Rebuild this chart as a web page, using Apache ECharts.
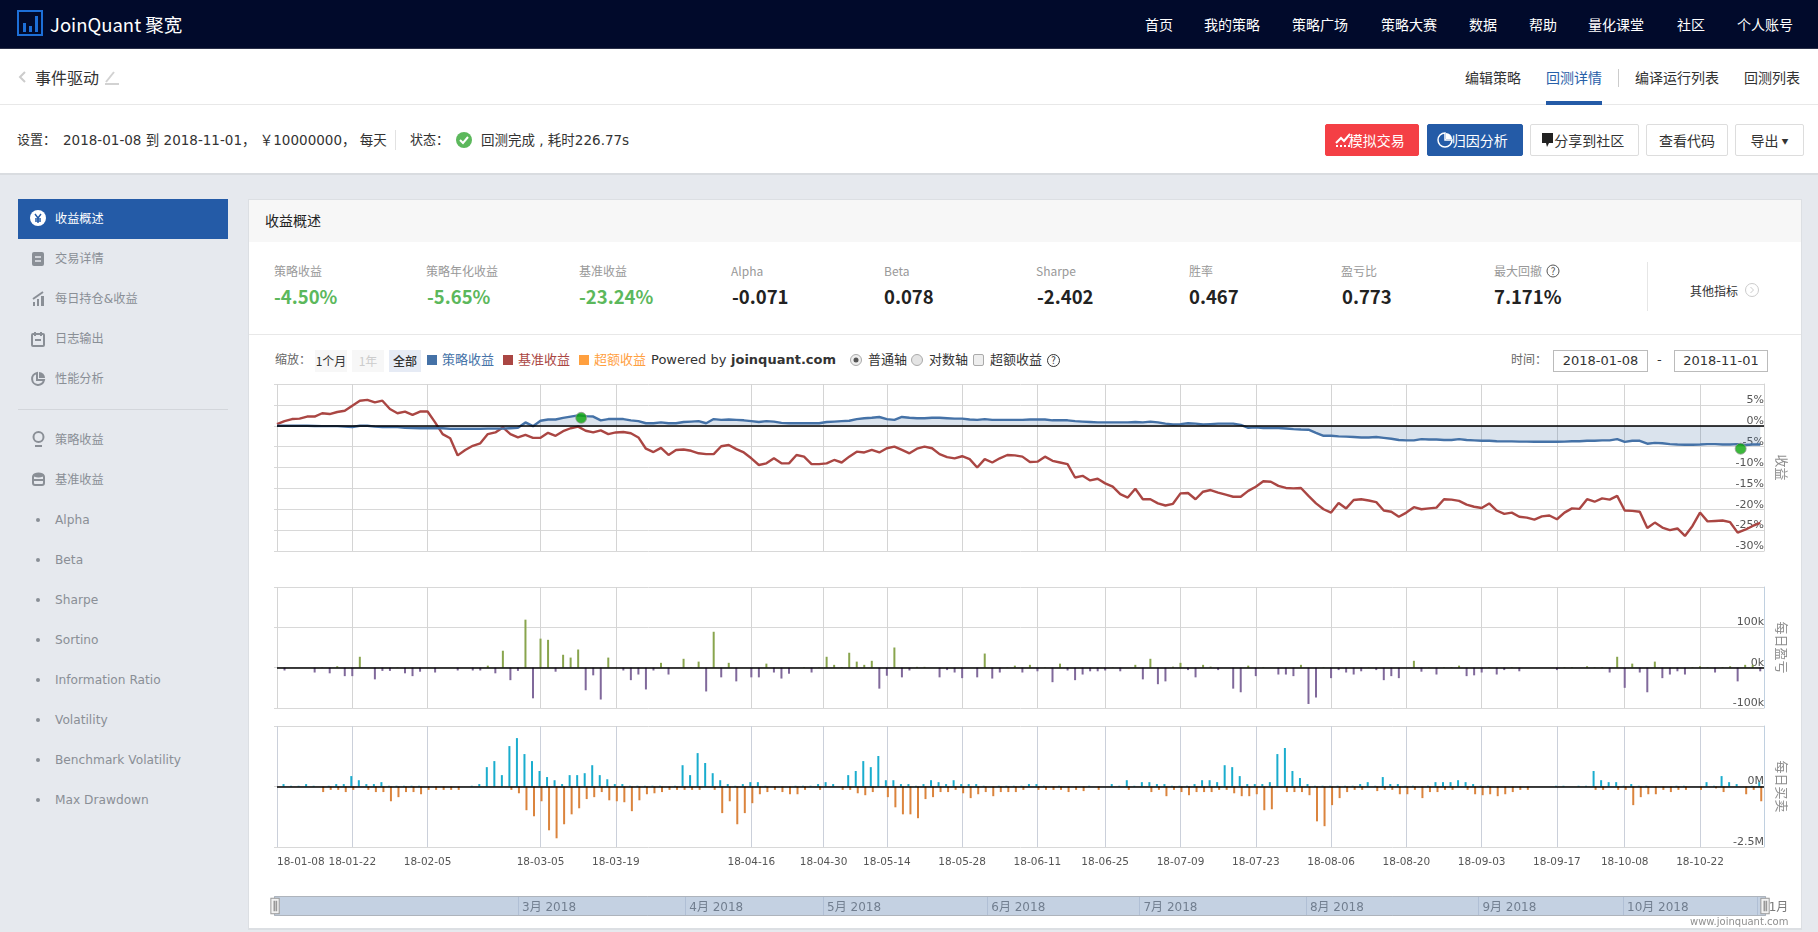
<!DOCTYPE html>
<html>
<head>
<meta charset="utf-8">
<title>事件驱动</title>
<script src="https://cdn.jsdelivr.net/npm/echarts@6/dist/echarts.min.js"></script>
<style>
* { box-sizing: border-box; }
html, body { margin: 0; padding: 0; width: 1818px; height: 932px; overflow: hidden; background: #e6e9ee; }
body { font-family: "Noto Sans CJK SC", "DejaVu Sans", sans-serif; font-size: 13px; color: #333; position: relative; }
.box { position: absolute; }
.t { position: absolute; white-space: nowrap; line-height: 20px; height: 20px; }
.nav { color: #fff; font-size: 14px; top: 14px; }
.tab { font-size: 14px; top: 67px; color: #333; }
.btn { position: absolute; top: 124px; height: 32px; line-height: 30px; text-align: center; font-size: 14px; border: 1px solid #ddd; border-radius: 2px; background: #fff; color: #333; }
.side { left: 55px; font-size: 12.2px; color: #8a8f96; font-family: "DejaVu Sans", "Noto Sans CJK SC", sans-serif; }
.dot { position: absolute; left: 36px; width: 4px; height: 4px; border-radius: 2px; background: #8a8f96; }
.ml { top: 261px; font-size: 12px; color: #999; }
.mv { top: 286px; font-size: 18.5px; font-weight: 700; color: #222; }
.green { color: #5cb85c; }
.lg { top: 350px; font-size: 13px; font-family: "DejaVu Sans", "Noto Sans CJK SC", sans-serif; color: #333; }
.sw { position: absolute; top: 355px; width: 10px; height: 10px; }
.zoombtn { position: absolute; top: 350px; height: 22px; line-height: 22px; text-align: center; background: #f7f7f7; font-size: 12px; color: #333; }
.input { position: absolute; top: 350px; height: 22px; line-height: 20px; text-align: center; border: 1px solid #bbb; background: #fff; color: #333; font-size: 13px; font-family: "DejaVu Sans", sans-serif; }
.status { top: 130px; font-family: "DejaVu Sans", "Noto Sans CJK SC", sans-serif; }
svg { position: absolute; overflow: visible; }
#chart { position: absolute; left: 248px; top: 376px; width: 1554px; height: 556px; }
</style>
</head>
<body>

<!-- top bar -->
<div class="box" style="left:0;top:0;width:1818px;height:49px;background:#010a2b;border-bottom:1px solid #2a3048"></div>
<svg style="left:17px;top:10px" width="26" height="26">
  <rect x="1" y="1" width="24" height="24" fill="none" stroke="#1d6fd8" stroke-width="2"/>
  <rect x="6" y="13" width="3" height="9" fill="#1d6fd8"/><rect x="12" y="16" width="3" height="6" fill="#1d6fd8"/><rect x="18" y="6" width="3" height="16" fill="#1d6fd8"/>
</svg>
<span class="t" style="left:50px;top:14px;color:#fff;font-size:18.5px">JoinQuant 聚宽</span>
<span class="t nav" style="left:1145px">首页</span>
<span class="t nav" style="left:1204px">我的策略</span>
<span class="t nav" style="left:1292px">策略广场</span>
<span class="t nav" style="left:1381px">策略大赛</span>
<span class="t nav" style="left:1469px">数据</span>
<span class="t nav" style="left:1529px">帮助</span>
<span class="t nav" style="left:1588px">量化课堂</span>
<span class="t nav" style="left:1677px">社区</span>
<span class="t nav" style="left:1737px">个人账号</span>

<!-- title and status rows -->
<div class="box" style="left:0;top:49px;width:1818px;height:126px;background:#fff;border-bottom:2px solid #d9dce0"></div>
<div class="box" style="left:0;top:104px;width:1818px;height:1px;background:#e8e8e8"></div>
<svg style="left:18px;top:71px" width="8" height="12"><path d="M7 1 L2 6 L7 11" fill="none" stroke="#ccc" stroke-width="2"/></svg>
<span class="t" style="left:35px;top:67px;font-size:16px">事件驱动</span>
<svg style="left:104px;top:69px" width="16" height="16"><path d="M2 13 L10 3 M1 15 H15" stroke="#d2d2d2" stroke-width="2" fill="none"/></svg>
<span class="t tab" style="left:1465px">编辑策略</span>
<span class="t tab" style="left:1546px;color:#2860a8">回测详情</span>
<div class="box" style="left:1546px;top:101px;width:56px;height:4px;background:#245ba7"></div>
<div class="box" style="left:1618px;top:69px;width:1px;height:18px;background:#ccc"></div>
<span class="t tab" style="left:1635px">编译运行列表</span>
<span class="t tab" style="left:1744px">回测列表</span>

<span class="t status" style="left:17px">设置：</span>
<span class="t status" style="left:63px;font-size:13.5px">2018-01-08 到 2018-11-01， ￥10000000， 每天</span>
<div class="box" style="left:395px;top:130px;width:1px;height:20px;background:#e2e2e2"></div>
<span class="t status" style="left:410px">状态：</span>
<svg style="left:456px;top:132px" width="16" height="16"><circle cx="8" cy="8" r="8" fill="#5cb85c"/><path d="M4 8 L7 11 L12 5" stroke="#fff" stroke-width="2" fill="none"/></svg>
<span class="t status" style="left:481px;font-size:13.5px">回测完成 , 耗时226.77s</span>

<div class="btn" style="left:1325px;width:94px;background:#f43f45;border-color:#f43f45;color:#fff">&nbsp;&nbsp;&nbsp;模拟交易</div>
<svg style="left:1335px;top:133px" width="16" height="14"><path d="M1 10 L6 5 L9 8 L15 1" stroke="#fff" stroke-width="2" fill="none"/><path d="M1 13 H15" stroke="#fff" stroke-width="2" stroke-dasharray="2 2"/></svg>
<div class="btn" style="left:1427px;width:96px;background:#245ba7;border-color:#245ba7;color:#fff">&nbsp;&nbsp;&nbsp;归因分析</div>
<svg style="left:1438px;top:133px" width="14" height="14"><path d="M7 0 A7 7 0 1 0 14 7 L7 7 Z" fill="none" stroke="#fff" stroke-width="1.5"/><path d="M8 0 A6 6 0 0 1 14 6 L8 6 Z" fill="#fff"/></svg>
<div class="btn" style="left:1530px;width:109px">&nbsp;&nbsp;&nbsp;分享到社区</div>
<svg style="left:1541px;top:133px" width="13" height="15"><path d="M1 0 H12 V10 H8 L6 14 L5 10 H1 Z" fill="#222"/></svg>
<div class="btn" style="left:1646px;width:82px">查看代码</div>
<div class="btn" style="left:1735px;width:69px">导出 <span style="font-size:7px;vertical-align:2px">▼</span></div>

<!-- sidebar -->
<div class="box" style="left:18px;top:199px;width:210px;height:40px;background:#245ba7"></div>
<svg style="left:30px;top:210px" width="16" height="16"><circle cx="8" cy="8" r="8" fill="#fff"/><path d="M5 4 L8 8 L11 4 M8 8 V13 M5 9 H11 M5 11 H11" stroke="#245ba7" stroke-width="1.4" fill="none"/></svg>
<span class="t side" style="top:209px;color:#fff">收益概述</span>
<svg style="left:32px;top:252px" width="12" height="14"><rect width="12" height="14" rx="2" fill="#8a8f96"/><path d="M3 5 H9 M3 9 H9" stroke="#e6e9ee" stroke-width="1.5"/></svg>
<span class="t side" style="top:249px">交易详情</span>
<svg style="left:32px;top:291px" width="13" height="15"><path d="M1 15 V11 H3 V15 M5 15 V8 H7 V15 M9 15 V5 H12 V15 Z" fill="#8a8f96"/><path d="M1 8 L11 1" stroke="#8a8f96" stroke-width="2"/></svg>
<span class="t side" style="top:289px">每日持仓&amp;收益</span>
<svg style="left:32px;top:332px" width="12" height="14"><rect y="2" width="12" height="12" rx="1" fill="none" stroke="#8a8f96" stroke-width="2"/><path d="M3 0 V4 M9 0 V4 M3 8 H9" stroke="#8a8f96" stroke-width="2"/></svg>
<span class="t side" style="top:329px">日志输出</span>
<svg style="left:31px;top:372px" width="14" height="14"><path d="M6 1 A6 6 0 1 0 13 8 L6 8 Z" fill="none" stroke="#8a8f96" stroke-width="2"/><path d="M8 0 A6 6 0 0 1 14 6 L8 6 Z" fill="#8a8f96"/></svg>
<span class="t side" style="top:369px">性能分析</span>
<div class="box" style="left:18px;top:409px;width:210px;height:1px;background:#d3d6db"></div>
<svg style="left:32px;top:431px" width="13" height="16"><circle cx="6.5" cy="6" r="5" fill="none" stroke="#8a8f96" stroke-width="2"/><path d="M3 15 H10" stroke="#8a8f96" stroke-width="2"/></svg>
<span class="t side" style="top:430px">策略收益</span>
<svg style="left:32px;top:472px" width="13" height="14"><ellipse cx="6.5" cy="3" rx="5.5" ry="2.5" fill="#8a8f96"/><rect x="1" y="3" width="11" height="10" rx="2" fill="none" stroke="#8a8f96" stroke-width="2"/><path d="M1 8 H12" stroke="#8a8f96" stroke-width="2"/></svg>
<span class="t side" style="top:470px">基准收益</span>
<div class="dot" style="top:518px"></div><span class="t side" style="top:510px">Alpha</span>
<div class="dot" style="top:558px"></div><span class="t side" style="top:550px">Beta</span>
<div class="dot" style="top:598px"></div><span class="t side" style="top:590px">Sharpe</span>
<div class="dot" style="top:638px"></div><span class="t side" style="top:630px">Sortino</span>
<div class="dot" style="top:678px"></div><span class="t side" style="top:670px">Information Ratio</span>
<div class="dot" style="top:718px"></div><span class="t side" style="top:710px">Volatility</span>
<div class="dot" style="top:758px"></div><span class="t side" style="top:750px">Benchmark Volatility</span>
<div class="dot" style="top:798px"></div><span class="t side" style="top:790px">Max Drawdown</span>

<!-- card -->
<div class="box" style="left:248px;top:199px;width:1554px;height:731px;background:#fff;border:1px solid #dcdfe3;border-bottom:2px solid #dcdfe3"></div>
<div class="box" style="left:249px;top:200px;width:1552px;height:42px;background:#f7f7f7"></div>
<span class="t" style="left:265px;top:210px;font-size:14px;color:#222">收益概述</span>

<span class="t ml" style="left:274px">策略收益</span><span class="t mv green" style="left:274px">-4.50%</span>
<span class="t ml" style="left:426px">策略年化收益</span><span class="t mv green" style="left:427px">-5.65%</span>
<span class="t ml" style="left:579px">基准收益</span><span class="t mv green" style="left:579px">-23.24%</span>
<span class="t ml" style="left:731px">Alpha</span><span class="t mv" style="left:732px">-0.071</span>
<span class="t ml" style="left:884px">Beta</span><span class="t mv" style="left:884px">0.078</span>
<span class="t ml" style="left:1036px">Sharpe</span><span class="t mv" style="left:1037px">-2.402</span>
<span class="t ml" style="left:1189px">胜率</span><span class="t mv" style="left:1189px">0.467</span>
<span class="t ml" style="left:1341px">盈亏比</span><span class="t mv" style="left:1342px">0.773</span>
<span class="t ml" style="left:1494px">最大回撤</span><span class="t mv" style="left:1494px">7.171%</span>
<svg style="left:1546px;top:264px" width="14" height="14"><circle cx="7" cy="7" r="6" fill="none" stroke="#555"/><text x="7" y="10.5" font-size="10" text-anchor="middle" fill="#555">?</text></svg>
<div class="box" style="left:1647px;top:262px;width:1px;height:49px;background:#e6e6e6"></div>
<span class="t" style="left:1690px;top:281px;font-size:12px;color:#333">其他指标</span>
<svg style="left:1745px;top:283px" width="14" height="14"><circle cx="7" cy="7" r="6.5" fill="none" stroke="#ccc"/><path d="M5.5 4 L8.5 7 L5.5 10" fill="none" stroke="#ccc"/></svg>
<div class="box" style="left:249px;top:334px;width:1552px;height:1px;background:#e8e8e8"></div>

<!-- range buttons, legend, axis switches -->
<span class="t lg" style="left:275px;color:#666;font-size:12px">缩放：</span>
<div class="zoombtn" style="left:315px;width:32px">1个月</div>
<div class="zoombtn" style="left:352px;width:32px;color:#ccc">1年</div>
<div class="zoombtn" style="left:389px;width:32px;background:#e6ebf5;font-weight:500">全部</div>
<div class="sw" style="left:427px;background:#4572a7"></div><span class="t lg" style="left:442px;color:#4572a7">策略收益</span>
<div class="sw" style="left:503px;background:#aa4643"></div><span class="t lg" style="left:518px;color:#aa4643">基准收益</span>
<div class="sw" style="left:579px;background:#ffa03f"></div><span class="t lg" style="left:594px;color:#ffa03f">超额收益</span>
<span class="t lg" style="left:651px">Powered by</span>
<span class="t lg" style="left:731px;font-weight:700">joinquant.com</span>
<svg style="left:850px;top:354px" width="12" height="12"><circle cx="6" cy="6" r="5.5" fill="#eee" stroke="#aaa"/><circle cx="6" cy="6" r="2.5" fill="#555"/></svg>
<span class="t lg" style="left:868px">普通轴</span>
<svg style="left:911px;top:354px" width="12" height="12"><circle cx="6" cy="6" r="5.5" fill="#e4e4e4" stroke="#aaa"/></svg>
<span class="t lg" style="left:929px">对数轴</span>
<svg style="left:973px;top:354px" width="11" height="12"><rect x=".5" y=".5" width="10" height="11" rx="1.5" fill="#eee" stroke="#aaa"/></svg>
<span class="t lg" style="left:990px">超额收益</span>
<svg style="left:1047px;top:354px" width="13" height="13"><circle cx="6.5" cy="6.5" r="6" fill="none" stroke="#333"/><text x="6.5" y="10" font-size="9.5" text-anchor="middle" fill="#333">?</text></svg>
<span class="t lg" style="left:1511px;color:#666;font-size:12px">时间：</span>
<div class="input" style="left:1553px;width:95px">2018-01-08</div>
<span class="t lg" style="left:1657px">-</span>
<div class="input" style="left:1674px;width:94px">2018-11-01</div>

<div id="chart"></div>
<span class="t" style="left:1690px;top:912px;font-size:10px;color:#909090;font-family:'DejaVu Sans',sans-serif">www.joinquant.com</span>

<script>
// trading days, 2018-01-08 = day 0, 2018-11-01 = day 197
var tickDays = [0, 10, 20, 35, 45, 63, 72.6, 81, 91, 101, 110, 120, 130, 140, 150, 160, 170, 179, 189];
var tickLabels = ['18-01-08', '18-01-22', '18-02-05', '18-03-05', '18-03-19', '18-04-16', '18-04-30', '18-05-14', '18-05-28',
    '18-06-11', '18-06-25', '18-07-09', '18-07-23', '18-08-06', '18-08-20', '18-09-03', '18-09-17', '18-10-08', '18-10-22'];
var navDays = [32, 54.2, 72.5, 94.3, 114.5, 136.6, 159.5, 178.7, 196.5];
var navLabels = ['3月 2018', '4月 2018', '5月 2018', '6月 2018', '7月 2018', '8月 2018', '9月 2018', '10月 2018', '11月'];

// cumulative return, %
var strategy = [
    0, 0, 0, 0, 0, -0.05, -0.1, -0.1, -0.1, -0.2,
    -0.3, 0, 0, -0.2, -0.3, -0.3, -0.3, -0.5, -0.55, -0.6,
    -0.6, -0.6, -0.6, -0.75, -0.75, -0.75, -0.75, -0.75, -0.7, -0.7,
    -0.7, -0.6, -0.5, 0.8, -0.1, 1.2, 1.5, 1.5, 1.9, 2.2,
    2.5, 2.3, 2.2, 1.3, 1.6, 1.6, 1.6, 1.3, 1.1, 0.6,
    0.6, 0.8, 0.6, 0.6, 0.9, 1.0, 1.1, 0.6, 1.6, 1.4,
    1.5, 1.4, 1.3, 1.1, 0.9, 1.1, 1.0, 0.7, 0.6, 0.6,
    0.6, 0.6, 0.6, 0.9, 1.0, 1.1, 1.2, 1.6, 1.8, 1.9,
    2.1, 1.6, 1.4, 2.1, 1.9, 1.8, 1.8, 1.9, 1.9, 1.8,
    1.7, 1.7, 1.5, 1.4, 1.6, 1.4, 1.4, 1.4, 1.4, 1.4,
    1.5, 1.5, 1.5, 1.3, 1.3, 1.3, 1.1, 1.0, 0.9, 0.8,
    0.8, 0.8, 0.8, 0.8, 0.9, 0.8, 1.0, 0.8, 0.5, 0.3,
    0.4, 0.6, 0.5, 0.3, 0.4, 0.5, 0.5, 0.5, 0.2, -0.5,
    -0.4, -0.55, -0.55, -0.55, -0.65, -0.8, -0.9, -0.95, -1.7, -2.4,
    -2.4, -2.55, -2.6, -2.7, -2.8, -2.8, -2.7, -2.9, -3.1, -3.4,
    -3.5, -3.5, -3.2, -3.3, -3.3, -3.4, -3.4, -3.2, -3.4, -3.5,
    -3.6, -3.6, -3.7, -3.75, -3.75, -3.8, -3.8, -3.85, -3.85, -3.85,
    -3.85, -3.8, -3.7, -3.7, -3.6, -3.6, -3.5, -3.5, -3.2, -3.85,
    -3.6, -3.6, -4.3, -4.1, -4.2, -4.4, -4.5, -4.55, -4.55, -4.5,
    -4.4, -4.4, -4.5, -4.5, -4.4, -4.6, -4.5, -4.5];
var benchmark = [
    0.4, 1.1, 1.6, 1.7, 2.2, 2.2, 3.0, 2.8, 3.3, 3.6,
    4.8, 6.0, 6.2, 5.6, 6.0, 4.0, 3.0, 3.4, 2.6, 3.4,
    3.4, 0.8, -2.0, -3.0, -7.1, -5.8, -4.8, -4.2, -2.0, -1.6,
    -0.4, -2.0, -2.8, -2.2, -2.9, -2.9, -1.7, -2.4, -1.3, -0.6,
    -0.2, -1.2, -1.6, -1.1, -2.0, -1.6, -1.5, -1.8, -2.8, -5.5,
    -6.3, -5.3, -7.0, -5.8, -5.7, -6.0, -6.6, -6.8, -6.8, -4.9,
    -4.6, -5.6, -6.4, -7.8, -9.4, -9.0, -7.8, -9.0, -9.0, -7.0,
    -7.4, -9.2, -9.2, -9.0, -8.2, -8.8, -7.4, -6.2, -6.4, -5.8,
    -6.4, -5.4, -5.0, -5.8, -6.6, -5.5, -5.0, -5.4, -6.8, -7.5,
    -7.8, -7.3, -8.0, -10.0, -8.0, -8.8, -7.8, -7.0, -7.1, -7.4,
    -8.7, -8.6, -7.4, -8.4, -8.8, -9.2, -12.4, -12.0, -13.1, -12.7,
    -13.8, -14.6, -16.4, -17.2, -15.1, -17.6, -17.6, -18.6, -19.1, -18.7,
    -16.2, -16.1, -17.6, -15.8, -15.4, -16.0, -16.5, -17.0, -17.0, -15.6,
    -14.6, -13.3, -13.4, -14.4, -14.9, -15.0, -14.9, -16.8, -18.6, -20.0,
    -20.8, -18.5, -19.8, -17.8, -17.6, -17.9, -18.3, -20.3, -20.6, -21.8,
    -20.8, -19.5, -20.0, -19.8, -19.6, -17.6, -17.7, -18.0, -18.9, -19.4,
    -19.7, -18.6, -20.3, -21.1, -20.8, -21.8, -22.0, -22.5, -21.7, -21.5,
    -22.4, -20.8, -19.8, -19.9, -17.6, -18.2, -17.4, -17.7, -16.8, -20.3,
    -20.4, -20.6, -24.5, -23.2, -24.4, -25.0, -24.6, -26.4, -24.0, -20.8,
    -22.9, -22.8, -22.7, -23.1, -25.6, -24.9, -24.0, -23.24];
var drawdownDays = [40.4, 194.4];
var drawdownValues = [1.9, -5.5];

// daily profit and loss, k
var dailyPnl = [
    0, -7, 0, 0, 0, -12, 1, -14, 3.5, -21,
    -21, 27, 0, -29, -8, -8, 1, -14, -21, -10,
    1, -12, 0, 0, -7, 0, -7, -7, 5, -14,
    42, -31, -8, 119, -76, 72, 69, -10, 32, 25,
    45, -56, -19, -79, 25, 1, -7, -31, -17, -54,
    -7, 12, -17, 0, 22, 1, 15, -59, 89, -24,
    12, -34, 0, -24, -24, 10, -12, -27, -15, 0,
    1.5, -12, 1, 27, 7, 1.5, 37, 15, 7, 17,
    -52, -20, 50, -24, -7, 2, 2, 0, -24, -6,
    -12, -26, 0, -24, 35, -27, -12, 1, 5, -12,
    7, -9, 1, -36, 10, -7, -31, -17, -9, -9,
    -7, 1, -9, 0, 7, -29, 22, -41, -34, 2.5,
    12, -6, -24, 7, 2.5, -6, 0, -52, -61, 5,
    -21, 1.5, 0, -17, -17, -21, 7, -90, -74, 1.5,
    -26, -6, -12, -17, -9, 1, -6, -31, -21, -26,
    0, 17, -10, 1, -17, 1.5, 1.5, 5, -21, -19,
    -12, 1.5, -17, -6, 1.5, -9, 0, 0, 0, 0,
    -6, 1.5, 1.5, 0, 3.5, 1.5, 1.5, -12, 27, -50,
    10, -12, -61, 15, -26, -17, -9, -17, 1.5, 3.5,
    1.5, -12, 1.5, 3.5, -34, 7, 7, -9];

// daily buys and sells, M
var dailyBuy = [
    0, .10, .03, .03, .10, .03, 0, .03, .10, .10,
    .43, .26, .10, .10, .18, .03, .03, .03, .03, .03,
    0, 0, 0, 0, 0, 0, .03, .10, .80, 1.05,
    .47, 1.67, 2.0, 1.34, 1.05, .64, .39, .26, .10, .47,
    .47, .55, .88, .47, .30, .10, .10, .03, .03, .03,
    .03, .03, 0, .03, .88, .47, 1.38, .97, .55, .26,
    .10, .03, .10, .18, .18, .03, 0, 0, 0, .03,
    .03, .03, .10, .18, .10, 0, .47, .64, 1.05, .80,
    1.26, .26, .26, .10, .10, .03, .10, .26, .18, .10,
    .26, .10, .10, .10, .03, 0, .03, .03, .03, .03,
    .10, .10, .03, 0, .03, 0, 0, 0, .03, 0,
    0, .10, .03, .26, .03, .18, .18, .10, .10, .03,
    .03, .03, .10, .26, .26, .18, .88, .80, .43, .10,
    .10, .10, .18, 1.34, 1.59, .64, .35, .10, .03, .03,
    .03, .03, .03, .03, .10, .18, .03, .39, .10, .10,
    .03, .03, 0, .03, .18, .18, .18, .26, .18, .10,
    .03, .03, 0, 0, 0, 0, 0, 0, 0, 0,
    .03, .03, 0, .03, .03, .64, .26, .18, .18, .03,
    .10, .03, .03, 0, 0, 0, .03, .03, 0, 0,
    .18, .03, .43, .18, .10, 0, .03, .18];
var dailySell = [
    0, 0, 0, 0, 0, 0, .23, .14, .14, .23,
    .14, 0, .14, .23, .23, .61, .44, .23, .23, .32,
    .14, .14, .14, .14, .14, 0, 0, 0, 0, 0,
    0, .14, .28, .98, 1.23, .61, 1.81, 2.14, 1.56, 1.15,
    .90, .52, .44, .23, .57, .61, .65, 1.02, .57, .32,
    .28, .23, .14, .14, .14, .14, .14, 0, .14, 1.10,
    .61, 1.56, 1.10, .69, .32, .23, .14, .23, .32, .32,
    .14, 0, .14, 0, 0, .14, .14, .28, .36, .23,
    0, .44, .86, 1.15, 1.15, 1.31, .52, .44, .23, .23,
    .14, .28, .48, .32, .23, .40, .23, .23, .23, .14,
    0, .14, .14, .14, .14, .23, .14, .19, 0, .14,
    0, 0, 0, .14, 0, 0, .23, .14, .40, .14,
    .23, .36, .23, .23, .23, .14, .14, .28, .40, .40,
    .32, .98, .94, 0, .23, .23, .23, .36, 1.44, 1.64,
    .77, .48, .23, .14, .14, 0, .19, .14, .14, .32,
    .32, .14, .48, .23, .23, .14, .14, 0, .14, .32,
    .36, .32, .40, .32, .23, .14, .14, 0, 0, 0,
    0, 0, 0, 0, 0, .14, .14, 0, .14, .14,
    .77, .44, .32, .32, .14, .23, .14, .14, 0, .14,
    0, .08, .23, 0, 0, .32, .14, .61];

var fontLatin = '"DejaVu Sans", "Noto Sans CJK SC", sans-serif';
var dayMax = 197.5;   // right edge of the plot in days

function pairs(list) {
    return list.map(function (v, i) { return [i, v]; });
}

var zeroLine = {
    symbol: 'none', silent: true, animation: false, label: {show: false},
    lineStyle: {color: '#000', width: 1.5, type: 'solid'},
    data: [{yAxis: 0}]
};

function xAxisFor(grid, color, withLabels) {
    return {
        type: 'value', gridIndex: grid, min: 0, max: dayMax,
        axisLine: {show: false},
        axisTick: {show: withLabels, length: 4, customValues: tickDays, lineStyle: {color: color}},
        splitLine: {show: true, lineStyle: {color: color}},
        axisLabel: {
            show: withLabels, customValues: tickDays, alignMinLabel: 'left', margin: 10,
            fontFamily: fontLatin, fontSize: 10.5, color: '#555',
            formatter: function (v) { return tickLabels[tickDays.indexOf(v)]; }
        }
    };
}

// left axis only draws the little outside ticks, the right one has the labels
function yAxesFor(grid, min, max, step, unit, name, edge, labelLift) {
    return [{
        type: 'value', gridIndex: grid, min: min, max: max, interval: step, position: 'left',
        axisLine: {show: false}, axisLabel: {show: false}, splitLine: {show: false},
        axisTick: {show: true, length: 3, lineStyle: {color: '#d8d8d8'}}
    }, {
        type: 'value', gridIndex: grid, min: min, max: max, interval: step, position: 'right',
        name: name, nameLocation: 'middle', nameRotate: -90, nameGap: 11,
        nameTextStyle: {color: '#8d8d8d', fontSize: 13, fontFamily: '"Noto Sans CJK SC"'},
        axisLine: {show: true, lineStyle: {color: edge}},
        axisTick: {show: false},
        splitLine: {show: true, lineStyle: {color: '#d8d8d8'}},
        axisLabel: {
            inside: true, verticalAlign: 'bottom', margin: 0, lineHeight: labelLift,
            fontFamily: fontLatin, fontSize: 11, color: '#555',
            formatter: function (v) { return v === max ? '' : v + unit; }
        }
    }];
}

var myChart = echarts.init(document.getElementById('chart'));
myChart.setOption({
    animation: false,
    grid: [
        {left: 29, top: 8, width: 1487, height: 167},
        {left: 29, top: 211, width: 1487, height: 121},
        {left: 29, top: 350, width: 1487, height: 121},
        {left: 29, top: 520, width: 1523, height: 20}
    ],
    xAxis: [
        xAxisFor(0, '#d4d4d4', false),
        xAxisFor(1, '#d4d4d4', false),
        xAxisFor(2, '#cbd0da', true),
        {
            type: 'value', gridIndex: 3, min: 0, max: 202.2,
            axisLine: {show: false},
            axisTick: {show: false, customValues: navDays},
            splitLine: {show: true, lineStyle: {color: '#dfe3ea'}},
            axisLabel: {
                inside: true, customValues: navDays, align: 'left', margin: 2, padding: [0, 0, 0, 4],
                fontFamily: fontLatin, fontSize: 12, color: '#7a7a7a',
                formatter: function (v) { return navLabels[navDays.indexOf(v)]; }
            }
        }
    ],
    yAxis: [].concat(
        yAxesFor(0, -30, 10, 5, '%', '收益', '#d4d4d4', 9),
        yAxesFor(1, -100, 200, 100, 'k', '每日盈亏', '#c0d0e0', 10),
        yAxesFor(2, -2.5, 2.5, 2.5, 'M', '每日买卖', '#c0d0e0', 10),
        [{type: 'value', gridIndex: 3, min: 0, max: 1, show: false}]
    ),
    dataZoom: [{
        type: 'slider', xAxisIndex: [0, 1, 2], start: 0, end: 100, filterMode: 'none',
        left: 25, top: 520, width: 1492, height: 20,
        showDetail: false, showDataShadow: false, brushSelect: false, moveHandleSize: 0,
        backgroundColor: 'transparent', borderColor: '#aeb4bc', borderRadius: 0,
        fillerColor: 'rgba(100,135,180,0.38)',
        handleIcon: 'path://M0 0H8V15H0ZM3 3V12H3.6V3ZM5 3V12H5.6V3Z',
        handleSize: '78%',
        handleStyle: {color: '#f2f2f2', borderColor: '#999'}
    }],
    series: [
        {
            name: '基准收益', type: 'line', xAxisIndex: 0, yAxisIndex: 1, data: pairs(benchmark),
            symbol: 'none', lineStyle: {color: '#aa4643', width: 2.4}, z: 3
        },
        {
            name: '策略收益', type: 'line', xAxisIndex: 0, yAxisIndex: 1, data: pairs(strategy),
            symbol: 'none', lineStyle: {color: '#4572a7', width: 2.4},
            areaStyle: {color: 'rgba(69,114,167,0.2)', opacity: 1}, markLine: zeroLine, z: 3
        },
        {
            name: '最大回撤', type: 'scatter', xAxisIndex: 0, yAxisIndex: 1,
            data: drawdownDays.map(function (d, i) { return [d, drawdownValues[i]]; }),
            symbolSize: 11, itemStyle: {color: '#0aa60a', borderColor: '#9a9a9a', borderWidth: 1}, z: 4
        },
        {
            name: '每日盈亏', type: 'bar', xAxisIndex: 1, yAxisIndex: 3, data: pairs(dailyPnl),
            barWidth: 2, markLine: zeroLine,
            itemStyle: {color: function (p) { return p.value[1] > 0 ? '#89a54e' : '#80699b'; }}
        },
        {
            name: '买入', type: 'bar', xAxisIndex: 2, yAxisIndex: 5, data: pairs(dailyBuy),
            barWidth: 2, barGap: '0%', itemStyle: {color: '#1aadce'}, markLine: zeroLine
        },
        {
            name: '卖出', type: 'bar', xAxisIndex: 2, yAxisIndex: 5,
            data: pairs(dailySell.map(function (v) { return -v; })),
            barWidth: 2, barGap: '0%', itemStyle: {color: '#db843d'}
        }
    ]
});
</script>
</body>
</html>
